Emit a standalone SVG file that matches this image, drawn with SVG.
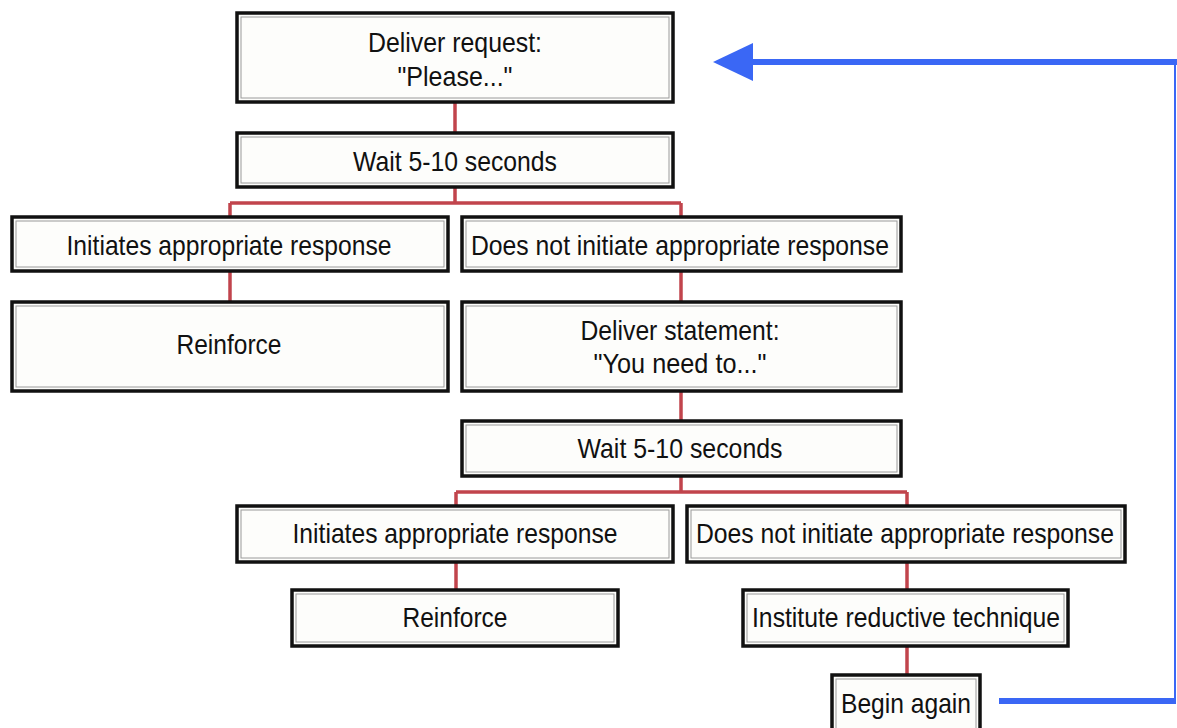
<svg xmlns="http://www.w3.org/2000/svg" width="1177" height="728" viewBox="0 0 1177 728">
<defs>
<style>
.box{fill:#fdfdfb;stroke:#111;stroke-width:3.5}
.inner{fill:none;stroke:#9a9a9a;stroke-width:1}
.t{font-family:"Liberation Sans",Arial,sans-serif;font-size:28px;fill:#111;text-anchor:middle}
.red{fill:none;stroke:#c1444c;stroke-width:3.5}
.blue{fill:none;stroke:#3a67f5;stroke-width:6}
</style>
<marker id="ah" markerUnits="userSpaceOnUse" markerWidth="42" markerHeight="40" refX="1" refY="20" orient="auto">
<path d="M0,1 L40,20 L0,39 Z" fill="#3a67f5"/>
</marker>
</defs>
<rect width="1177" height="728" fill="#ffffff"/>
<g id="connectors">
<path class="red" d="M455,102 V133"/>
<path class="red" d="M455,187 V203 M230,203 H681 M230,203 V217 M681,203 V217"/>
<path class="red" d="M230,271 V302"/>
<path class="red" d="M681,271 V302"/>
<path class="red" d="M681,391 V421"/>
<path class="red" d="M681,476 V492 M456,492 H907 M456,492 V506 M907,492 V506"/>
<path class="red" d="M456,562 V590"/>
<path class="red" d="M907,562 V590"/>
<path class="red" d="M907,646 V675"/>
<path class="blue" d="M999,701 H1176"/>
<path fill="none" stroke="#3a67f5" stroke-width="2" d="M1175,62 V701"/>
<path class="blue" d="M1177,62 H752" marker-end="url(#ah)"/>
</g>
<g id="n1"><rect class="box" x="237" y="13" width="436" height="89"/><rect class="inner" x="241" y="17" width="428" height="81"/>
<text class="t" x="455" y="52" textLength="174" lengthAdjust="spacingAndGlyphs">Deliver request:</text>
<text class="t" x="455" y="86" textLength="115" lengthAdjust="spacingAndGlyphs">"Please..."</text></g>
<g id="n2"><rect class="box" x="237" y="133" width="436" height="54"/><rect class="inner" x="241" y="137" width="428" height="46"/>
<text class="t" x="455" y="171" textLength="204" lengthAdjust="spacingAndGlyphs">Wait 5-10 seconds</text></g>
<g id="n3"><rect class="box" x="12" y="217" width="436" height="54"/><rect class="inner" x="16" y="221" width="428" height="46"/>
<text class="t" x="229" y="255" textLength="325" lengthAdjust="spacingAndGlyphs">Initiates appropriate response</text></g>
<g id="n4"><rect class="box" x="462" y="217" width="439" height="54"/><rect class="inner" x="466" y="221" width="431" height="46"/>
<text class="t" x="680" y="255" textLength="418" lengthAdjust="spacingAndGlyphs">Does not initiate appropriate response</text></g>
<g id="n5"><rect class="box" x="12" y="302" width="436" height="89"/><rect class="inner" x="16" y="306" width="428" height="81"/>
<text class="t" x="229" y="354" textLength="105" lengthAdjust="spacingAndGlyphs">Reinforce</text></g>
<g id="n6"><rect class="box" x="462" y="302" width="439" height="89"/><rect class="inner" x="466" y="306" width="431" height="81"/>
<text class="t" x="680" y="340" textLength="199" lengthAdjust="spacingAndGlyphs">Deliver statement:</text>
<text class="t" x="680" y="373" textLength="173" lengthAdjust="spacingAndGlyphs">"You need to..."</text></g>
<g id="n7"><rect class="box" x="462" y="421" width="439" height="55"/><rect class="inner" x="466" y="425" width="431" height="47"/>
<text class="t" x="680" y="458" textLength="205" lengthAdjust="spacingAndGlyphs">Wait 5-10 seconds</text></g>
<g id="n8"><rect class="box" x="237" y="506" width="436" height="56"/><rect class="inner" x="241" y="510" width="428" height="48"/>
<text class="t" x="455" y="543" textLength="325" lengthAdjust="spacingAndGlyphs">Initiates appropriate response</text></g>
<g id="n9"><rect class="box" x="687" y="506" width="438" height="56"/><rect class="inner" x="691" y="510" width="430" height="48"/>
<text class="t" x="905" y="543" textLength="418" lengthAdjust="spacingAndGlyphs">Does not initiate appropriate response</text></g>
<g id="n10"><rect class="box" x="292" y="590" width="326" height="56"/><rect class="inner" x="296" y="594" width="318" height="48"/>
<text class="t" x="455" y="627" textLength="105" lengthAdjust="spacingAndGlyphs">Reinforce</text></g>
<g id="n11"><rect class="box" x="743" y="590" width="325" height="56"/><rect class="inner" x="747" y="594" width="317" height="48"/>
<text class="t" x="906" y="627" textLength="308" lengthAdjust="spacingAndGlyphs">Institute reductive technique</text></g>
<g id="n12"><rect class="box" x="832" y="675" width="148" height="58"/><rect class="inner" x="836" y="679" width="140" height="50"/>
<text class="t" x="906" y="713" textLength="130" lengthAdjust="spacingAndGlyphs">Begin again</text></g>
</svg>
